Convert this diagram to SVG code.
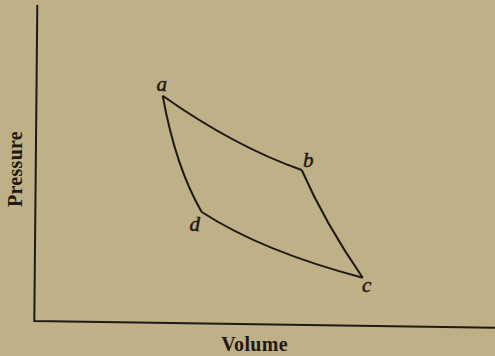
<svg xmlns="http://www.w3.org/2000/svg" width="495" height="356" viewBox="0 0 495 356">
<style>
.ax{fill:none;stroke:#1f1914;stroke-width:2}
.cv{fill:none;stroke:#1f1914;stroke-width:2;stroke-linejoin:miter}
.pt{font-family:"Liberation Serif",serif;font-style:italic;font-size:21px;fill:#1f1914;stroke:#1f1914;stroke-width:0.5}
.al{font-family:"Liberation Serif",serif;font-weight:bold;font-size:20px;fill:#1f1914;letter-spacing:0.3px}
</style>
<rect width="495" height="356" fill="#bfb088"/>
<g id="axes">
<path class="ax" d="M37.3,5 L34.3,321 L495,327.7"/>
<text class="al" x="254.5" y="351" text-anchor="middle">Volume</text>
<text class="al" transform="translate(22,169) rotate(-90)" text-anchor="middle">Pressure</text>
</g>
<g id="connectors">
<path class="cv" d="M162.7,95.7 Q233.7,146 301.7,170"/>
<path class="cv" d="M301.7,170 Q325.1,223.2 362.7,277.7"/>
<path class="cv" d="M162.7,95.7 Q175.5,166.8 201.7,212"/>
<path class="cv" d="M201.7,212 Q262.8,251.5 362.7,277.7"/>
</g>
<g id="node-a"><text class="pt" x="156.5" y="90.5">a</text></g>
<g id="node-b"><text class="pt" x="303" y="166.5">b</text></g>
<g id="node-d"><text class="pt" x="189.5" y="230.5">d</text></g>
<g id="node-c"><text class="pt" x="362" y="291.5">c</text></g>
</svg>
